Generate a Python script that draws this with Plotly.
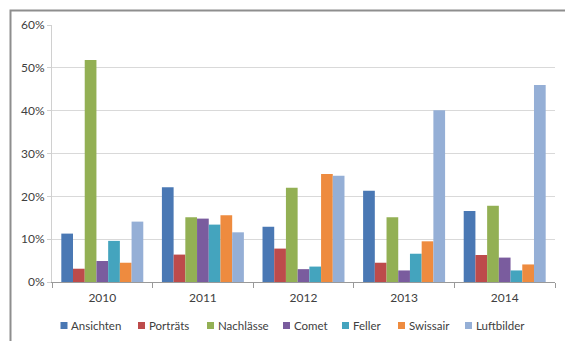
import plotly.graph_objects as go

years = ["2010", "2011", "2012", "2013", "2014"]
series_names = ["Ansichten", "Porträts", "Nachlässe", "Comet", "Feller", "Swissair", "Luftbilder"]
ansichten = [0.113, 0.221, 0.129, 0.213, 0.166]
portraets = [0.031, 0.064, 0.078, 0.045, 0.063]
nachlaesse = [0.518, 0.151, 0.220, 0.151, 0.178]
comet = [0.049, 0.148, 0.030, 0.027, 0.057]
feller = [0.096, 0.134, 0.036, 0.066, 0.027]
swissair = [0.045, 0.156, 0.252, 0.095, 0.041]
luftbilder = [0.141, 0.116, 0.248, 0.401, 0.460]
y_ticks = [0, 0.1, 0.2, 0.3, 0.4, 0.5, 0.6]

values = [ansichten, portraets, nachlaesse, comet, feller, swissair, luftbilder]
colors = ["#4A78B4", "#BD4B4B", "#93B054", "#7A5C9E", "#44A4BE", "#EE8B3F", "#95AFD6"]

W, H = 565, 341
ML, MR, MT, MB = 52, 10, 25, 59
PW, PH = W - ML - MR, H - MT - MB

def px(x):
    return (x - ML) / PW

def py(y):
    return (H - MB - y) / PH

FONT = "Lato"
TXT = "#404040"

fig = go.Figure()
for name, vals, col in zip(series_names, values, colors):
    fig.add_trace(go.Bar(x=years, y=vals, name=name, marker_color=col,
                         marker_line_width=0, showlegend=False))

shapes = []
annotations = []
# outer frame (cropped chart border)
shapes.append(dict(type="rect", xref="paper", yref="paper",
                   x0=px(10.5), x1=px(600), y0=py(400), y1=py(10.5),
                   line=dict(color="#8E8E8E", width=2), fillcolor="rgba(0,0,0,0)", layer="below"))

# legend (square x, text x)
leg_pos = [(60.5, 69), (138, 147), (207, 216), (283, 292), (342, 351), (398, 407), (465, 474)]
ly = 325.5
for (sx, tx), name, col in zip(leg_pos, series_names, colors):
    shapes.append(dict(type="rect", xref="paper", yref="paper",
                       x0=px(sx), x1=px(sx + 7), y0=py(ly + 3.5), y1=py(ly - 3.5),
                       line=dict(width=0), fillcolor=col))
    annotations.append(dict(text=name, xref="paper", yref="paper", x=px(tx), y=py(ly),
                            xanchor="left", yanchor="middle", showarrow=False,
                            font=dict(family=FONT, size=11.5, color=TXT)))

fig.update_layout(
    width=W, height=H,
    margin=dict(l=ML, r=MR, t=MT, b=MB),
    paper_bgcolor="white", plot_bgcolor="white",
    barmode="group", bargap=0.185, bargroupgap=0,
    font=dict(family=FONT, size=11.5, color=TXT),
    shapes=shapes, annotations=annotations,
    showlegend=False,
)
fig.update_xaxes(
    showline=True, linecolor="#999999", linewidth=1,
    ticks="outside", tickson="boundaries", ticklen=5, tickcolor="#999999",
    ticklabelstandoff=5,
    showgrid=False, tickfont=dict(family=FONT, size=12, color=TXT),
)
fig.update_yaxes(
    range=[0, 0.6], tickvals=y_ticks, tickformat=".0%",
    showgrid=True, gridcolor="#D9D9D9", gridwidth=1,
    showline=True, linecolor="#D0D0D0", linewidth=1,
    ticks="outside", ticklen=4, tickcolor="#D0D0D0",
    zeroline=False, tickfont=dict(family=FONT, size=12, color=TXT),
)

fig.write_html("out.html")
